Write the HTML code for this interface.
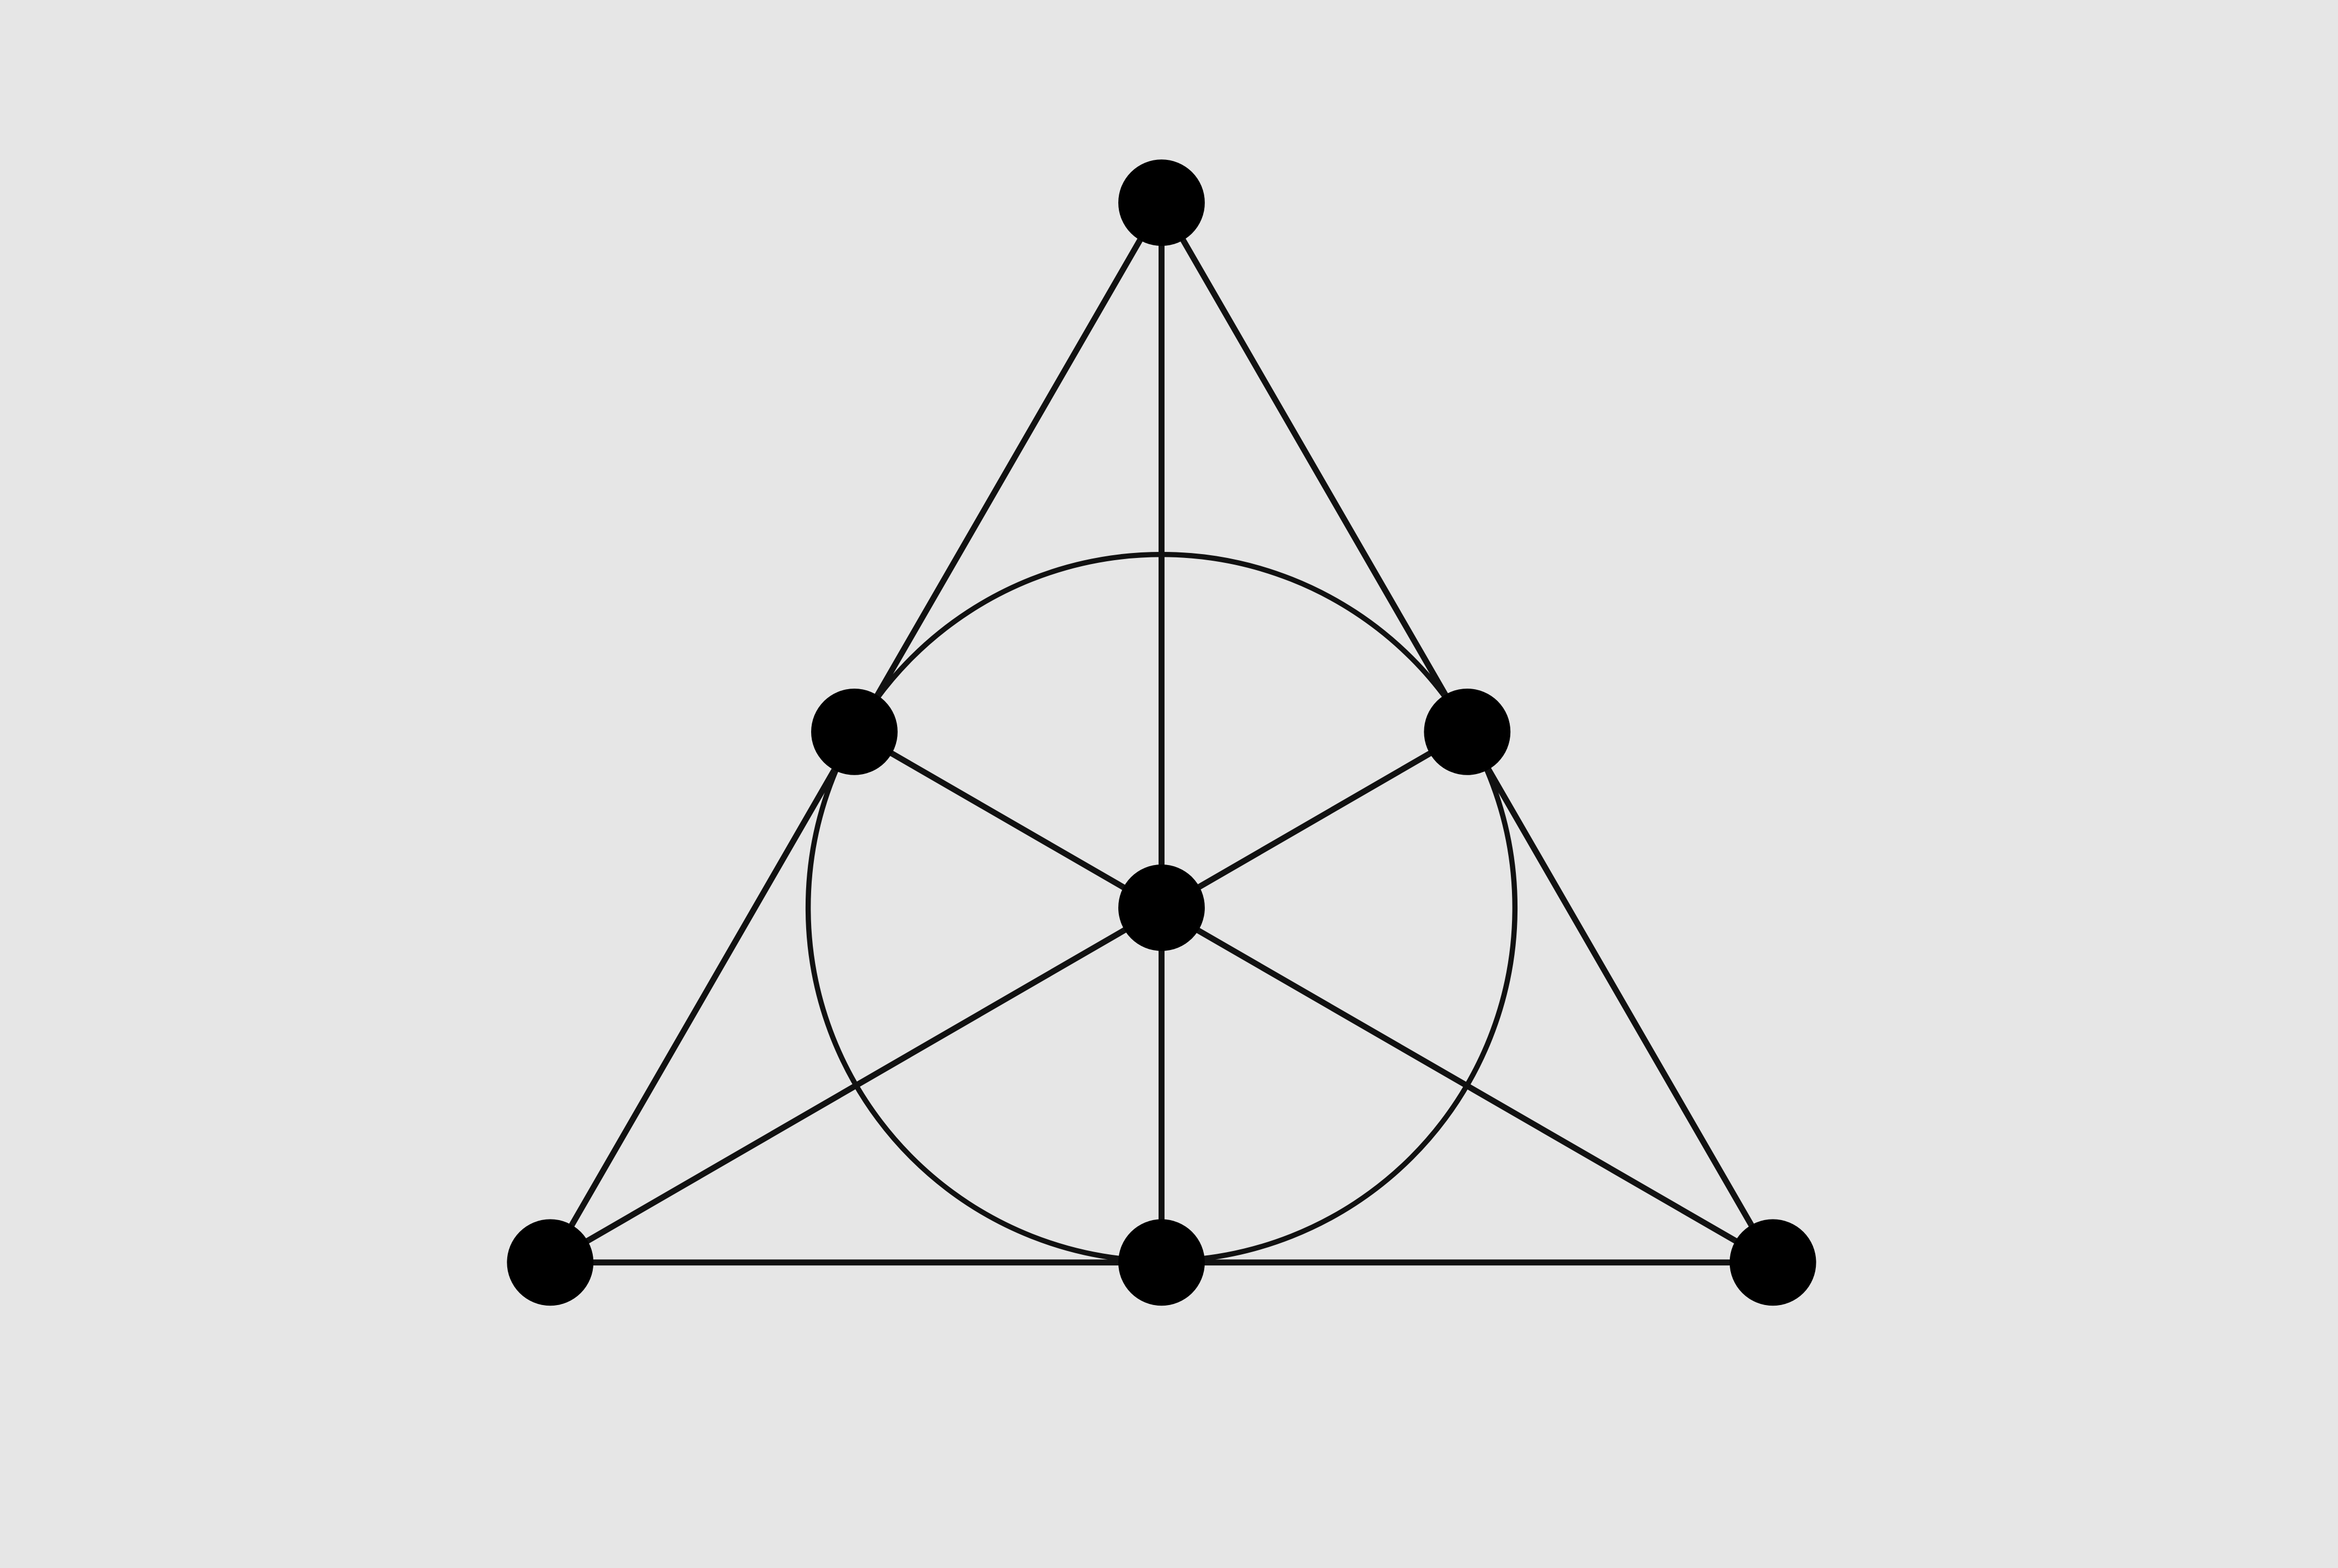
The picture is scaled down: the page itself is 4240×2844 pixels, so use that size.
<!DOCTYPE html>
<html><head><meta charset="utf-8"><title>Fano plane</title>
<style>
html,body{margin:0;padding:0;background:#e6e6e6;}
svg{display:block;}
</style></head>
<body>
<svg id="chart" width="4240" height="2844" viewBox="0 0 1568 1052" preserveAspectRatio="none" xmlns="http://www.w3.org/2000/svg">
<rect x="0" y="0" width="1568" height="1052" fill="#e6e6e6"/>
<g id="lines"></g>
<g id="circle"></g>
<g id="dots"></g>
</svg>
<script>
const pointNames = ["top","left-mid","right-mid","center","bottom-left","bottom-mid","bottom-right"];
const pointX = [779, 573, 984, 779, 369, 779, 1189];
const pointY = [136, 491, 491, 609, 847, 847, 847];
const lineFrom = [0, 0, 0, 4, 1, 2];
const lineTo   = [4, 6, 5, 6, 6, 4];
const circleCenter = 3;
const circleRadius = 237;

const NS = "http://www.w3.org/2000/svg";
const gl = document.getElementById("lines");
for (let i = 0; i < lineFrom.length; i++) {
  const l = document.createElementNS(NS, "line");
  l.setAttribute("x1", pointX[lineFrom[i]]);
  l.setAttribute("y1", pointY[lineFrom[i]]);
  l.setAttribute("x2", pointX[lineTo[i]]);
  l.setAttribute("y2", pointY[lineTo[i]]);
  l.setAttribute("stroke", "#111");
  l.setAttribute("stroke-width", "4");
  
  
  gl.appendChild(l);
}
const gc = document.getElementById("circle");
const c = document.createElementNS(NS, "circle");
c.setAttribute("cx", pointX[circleCenter]);
c.setAttribute("cy", pointY[circleCenter]);
c.setAttribute("r", circleRadius);
c.setAttribute("fill", "none");
c.setAttribute("stroke", "#111");
c.setAttribute("stroke-width", "3.5");


gc.appendChild(c);
const gd = document.getElementById("dots");
for (let i = 0; i < pointX.length; i++) {
  const d = document.createElementNS(NS, "circle");
  d.setAttribute("cx", pointX[i]);
  d.setAttribute("cy", pointY[i]);
  d.setAttribute("r", "29");
  d.setAttribute("fill", "#000");
  
  
  gd.appendChild(d);
}
</script>
</body></html>
